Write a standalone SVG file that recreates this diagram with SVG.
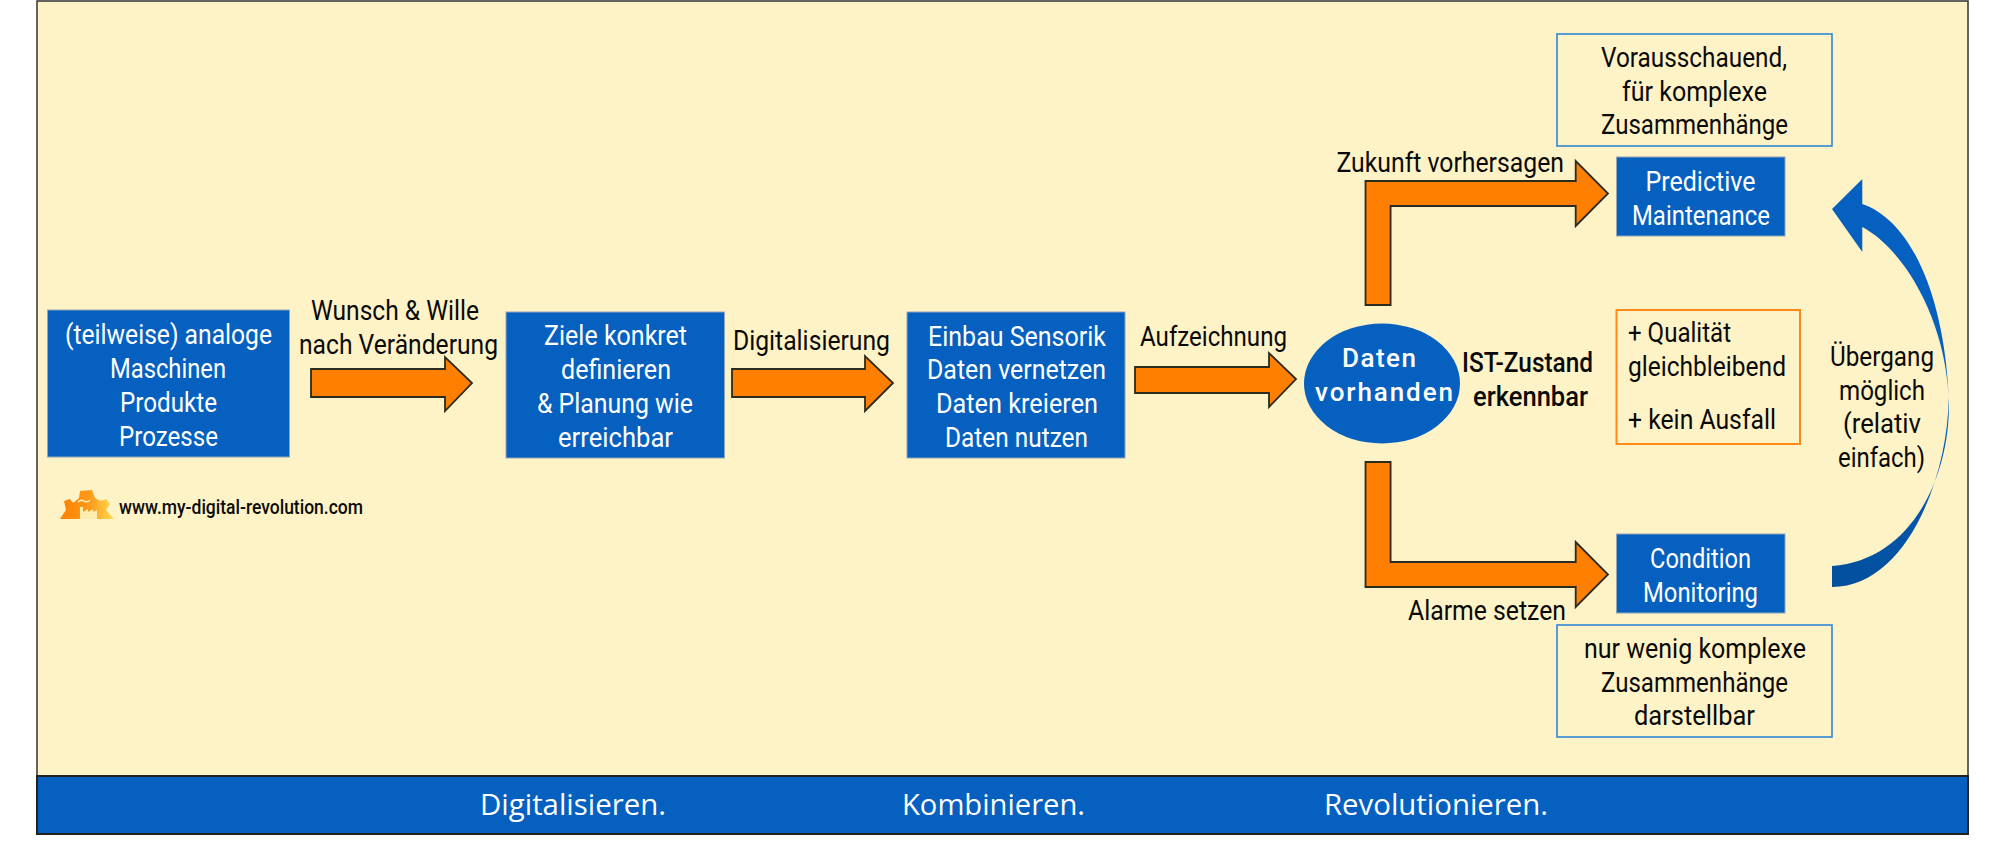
<svg xmlns="http://www.w3.org/2000/svg" width="2000" height="845" viewBox="0 0 2000 845">
<style>
text{font-family:"Roboto","Liberation Sans",sans-serif;font-size:28.500px;fill:#0a0a0a;text-anchor:start}
.w{fill:#fff}
.box{fill:#0560c0;stroke:#8fa6b8;stroke-width:1}
.arr{fill:#ff7f00;stroke:#2b2b20;stroke-width:1.8}
.note{fill:none;stroke:#2e86d6;stroke-width:1.6}
.foot{font-family:"Open Sans","Liberation Sans",sans-serif;font-size:29px;fill:#fff}
.b{font-weight:500;font-size:26px}
.m{font-weight:500}
</style>
<defs>
<linearGradient id="lg" x1="0" x2="1" y1="0" y2="0"><stop offset="0" stop-color="#ff8000"/><stop offset="0.55" stop-color="#ff9a1a"/><stop offset="1" stop-color="#ffdc55"/></linearGradient>
<linearGradient id="cg" gradientUnits="userSpaceOnUse" x1="0" x2="0" y1="430" y2="570"><stop offset="0" stop-color="#0560c0"/><stop offset="1" stop-color="#03509f"/></linearGradient>
</defs>
<rect id="frame" x="37" y="1" width="1931" height="775" fill="#fef3c6" stroke="#333" stroke-width="1.5"/>
<g id="footer">
<rect x="37" y="776" width="1931" height="58" fill="#0560c0" stroke="#222" stroke-width="2"/>
<text class="foot" x="480" y="815" textLength="186" lengthAdjust="spacingAndGlyphs">Digitalisieren.</text>
<text class="foot" x="902" y="815" textLength="183" lengthAdjust="spacingAndGlyphs">Kombinieren.</text>
<text class="foot" x="1324" y="815" textLength="224" lengthAdjust="spacingAndGlyphs">Revolutionieren.</text>
</g>
<g id="connectors">
<path class="arr" d="M311 369H445V357L472 383L445 411V397H311Z"/>
<path class="arr" d="M732 369H865V356L893 383L865 411V397H732Z"/>
<path class="arr" d="M1135 367H1269V353L1296 379L1269 407V393H1135Z"/>
<path class="arr" d="M1365.500 305V181H1575.700V161L1608 193.500L1575.700 226V206H1390.600V305Z"/>
<path class="arr" d="M1365.500 462V587H1575.700V607L1608 574.500L1575.700 542V562H1390.600V462Z"/>
<path d="M1832 209L1862.300 179V204C1915 222 1945 305 1948.700 397C1952 470 1915 560 1832 566V587C1905 587 1948 480 1948.700 397C1945 320 1905 250 1862.300 227V252Z" fill="url(#cg)"/>
</g>
<g id="n1"><rect class="box" x="47.500" y="310" width="242" height="147"/>
<text class="w" x="65" y="344" textLength="207" lengthAdjust="spacingAndGlyphs">(teilweise) analoge</text>
<text class="w" x="110" y="378" textLength="116" lengthAdjust="spacingAndGlyphs">Maschinen</text>
<text class="w" x="120" y="412" textLength="97" lengthAdjust="spacingAndGlyphs">Produkte</text>
<text class="w" x="119" y="446" textLength="99" lengthAdjust="spacingAndGlyphs">Prozesse</text></g>
<g id="l1"><text x="311" y="320" textLength="168" lengthAdjust="spacingAndGlyphs">Wunsch &amp; Wille</text>
<text x="299" y="354" textLength="199" lengthAdjust="spacingAndGlyphs">nach Veränderung</text></g>
<g id="n2"><rect class="box" x="506" y="312" width="218.500" height="146"/>
<text class="w" x="544" y="345" textLength="143" lengthAdjust="spacingAndGlyphs">Ziele konkret</text>
<text class="w" x="561" y="379" textLength="110" lengthAdjust="spacingAndGlyphs">definieren</text>
<text class="w" x="537" y="413" textLength="156" lengthAdjust="spacingAndGlyphs">&amp; Planung wie</text>
<text class="w" x="558" y="447" textLength="115" lengthAdjust="spacingAndGlyphs">erreichbar</text></g>
<g id="l2"><text x="733" y="350" textLength="157" lengthAdjust="spacingAndGlyphs">Digitalisierung</text></g>
<g id="n3"><rect class="box" x="907" y="312" width="218" height="146"/>
<text class="w" x="928" y="345.500" textLength="178" lengthAdjust="spacingAndGlyphs">Einbau Sensorik</text>
<text class="w" x="927" y="379" textLength="179" lengthAdjust="spacingAndGlyphs">Daten vernetzen</text>
<text class="w" x="936" y="413" textLength="162" lengthAdjust="spacingAndGlyphs">Daten kreieren</text>
<text class="w" x="945" y="447" textLength="143" lengthAdjust="spacingAndGlyphs">Daten nutzen</text></g>
<g id="l3"><text x="1140" y="346" textLength="147" lengthAdjust="spacingAndGlyphs">Aufzeichnung</text></g>
<g id="n4"><ellipse cx="1382" cy="383.500" rx="78" ry="60" fill="#0560c0"/>
<text class="w b" x="1342" y="367" textLength="74" lengthAdjust="spacing">Daten</text>
<text class="w b" x="1315" y="401" textLength="138" lengthAdjust="spacing">vorhanden</text></g>
<g id="l4"><text class="m" x="1462" y="372" textLength="131" lengthAdjust="spacingAndGlyphs">IST-Zustand</text>
<text class="m" x="1473" y="406" textLength="115" lengthAdjust="spacingAndGlyphs">erkennbar</text></g>
<g id="n5"><rect x="1616.500" y="310" width="183.500" height="134" fill="none" stroke="#ff8a1a" stroke-width="2"/>
<text x="1628" y="342" textLength="103" lengthAdjust="spacingAndGlyphs">+ Qualität</text>
<text x="1628" y="376" textLength="158" lengthAdjust="spacingAndGlyphs">gleichbleibend</text>
<text x="1628" y="428.500" textLength="148" lengthAdjust="spacingAndGlyphs">+ kein Ausfall</text></g>
<g id="n6"><rect class="note" x="1557" y="34" width="275" height="112"/>
<text x="1601" y="67" textLength="186" lengthAdjust="spacingAndGlyphs">Vorausschauend,</text>
<text x="1622" y="100.500" textLength="145" lengthAdjust="spacingAndGlyphs">für komplexe</text>
<text x="1601" y="134" textLength="187" lengthAdjust="spacingAndGlyphs">Zusammenhänge</text></g>
<g id="n7"><rect class="box" x="1616.500" y="157" width="168.500" height="79"/>
<text class="w" x="1645.500" y="190.500" textLength="110" lengthAdjust="spacingAndGlyphs">Predictive</text>
<text class="w" x="1632" y="224.500" textLength="138" lengthAdjust="spacingAndGlyphs">Maintenance</text></g>
<g id="l5"><text x="1336.500" y="171.500" textLength="227.500" lengthAdjust="spacingAndGlyphs">Zukunft vorhersagen</text></g>
<g id="n8"><rect class="box" x="1616.500" y="534" width="168.500" height="79"/>
<text class="w" x="1650" y="567.500" textLength="101" lengthAdjust="spacingAndGlyphs">Condition</text>
<text class="w" x="1643" y="601.500" textLength="115" lengthAdjust="spacingAndGlyphs">Monitoring</text></g>
<g id="l6"><text x="1408" y="619.500" textLength="158" lengthAdjust="spacingAndGlyphs">Alarme setzen</text></g>
<g id="n9"><rect class="note" x="1557" y="625" width="275" height="112"/>
<text x="1584" y="657.500" textLength="222" lengthAdjust="spacingAndGlyphs">nur wenig komplexe</text>
<text x="1601" y="691.500" textLength="187" lengthAdjust="spacingAndGlyphs">Zusammenhänge</text>
<text x="1634" y="725" textLength="121" lengthAdjust="spacingAndGlyphs">darstellbar</text></g>
<g id="l7"><text x="1830" y="365.500" textLength="104" lengthAdjust="spacingAndGlyphs">Übergang</text>
<text x="1839" y="399.500" textLength="86" lengthAdjust="spacingAndGlyphs">möglich</text>
<text x="1843" y="432.500" textLength="78" lengthAdjust="spacingAndGlyphs">(relativ</text>
<text x="1838" y="466.500" textLength="87" lengthAdjust="spacingAndGlyphs">einfach)</text></g>
<g id="logo">
<path d="M60 519L66 510L64 501L70 499L73 503L79 498L80 491L92 490L95 498L101 501L106 499L110 504L106 510L114 519Z" fill="url(#lg)"/>
<path d="M80 519V507H83V512L88 509V512L93 509V512L97 510V519Z" fill="#fdeeb0"/>
<path d="M78 502q3 -3 6 -1t6 -1" fill="none" stroke="#fef3c6" stroke-width="1.500"/>
<text x="119" y="514" textLength="244" lengthAdjust="spacingAndGlyphs" style="font-size:20px;font-weight:500">www.my-digital-revolution.com</text>
</g>
</svg>
